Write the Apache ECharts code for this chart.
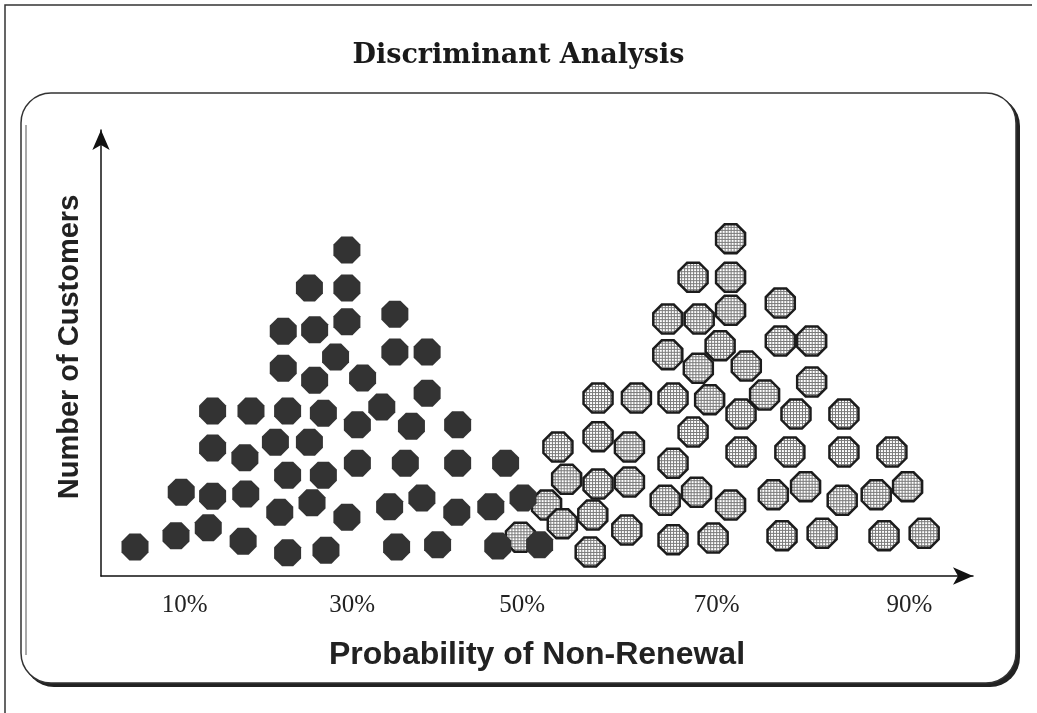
<!DOCTYPE html>
<html>
<head>
<meta charset="utf-8">
<script src="https://cdn.jsdelivr.net/npm/echarts@6/dist/echarts.min.js"></script>
<style>
  html, body { margin: 0; padding: 0; background: #ffffff; }
  #chart { width: 1037px; height: 713px; }
</style>
</head>
<body>
<div id="chart"></div>
<script>
// Customers expected to renew (dark markers): probability (%) and stacking height
const renewX = [28.2, 23.9, 28.2, 20.9, 24.5, 28.2, 33.7, 26.9, 33.7, 37.4,
                20.9, 24.5, 30.0, 12.8, 17.2, 21.4, 25.5, 32.2, 37.4, 29.4,
                35.6, 40.9, 12.8, 16.5, 20.0, 23.9, 29.4, 34.9, 40.9, 46.4,
                21.4, 25.5, 9.2, 12.8, 16.6, 20.5, 24.2, 28.2, 33.1, 36.8,
                40.8, 44.7, 48.4, 3.9, 8.6, 12.3, 16.3, 21.4, 25.8, 33.9,
                38.6, 45.5, 50.3];
const renewY = [73.1, 64.6, 64.6, 54.9, 55.2, 57.0, 58.7, 49.1, 50.2, 50.2,
                46.6, 43.9, 44.4, 37.0, 37.0, 37.0, 36.5, 37.9, 41.0, 33.9,
                33.6, 33.9, 28.7, 26.5, 30.0, 30.0, 25.3, 25.3, 25.3, 25.3,
                22.6, 22.6, 18.8, 17.9, 18.4, 14.3, 16.4, 13.2, 15.5, 17.5,
                14.3, 15.5, 17.5, 6.5, 9.0, 10.8, 7.8, 5.2, 5.8, 6.5,
                7.0, 6.7, 7.0];

// Customers expected to leave (light hatched markers)
const leaveX = [72.2, 67.9, 72.2, 65.0, 68.6, 72.2, 77.9, 71.0, 65.0, 68.5,
                74.0, 77.9, 81.5, 81.5, 57.0, 61.4, 65.6, 69.8, 76.1, 73.4,
                79.7, 85.2, 67.9, 57.0, 52.4, 60.6, 73.4, 79.0, 85.2, 90.7,
                65.6, 53.4, 57.0, 60.6, 64.7, 68.3, 72.2, 77.1, 80.8, 85.0,
                88.9, 92.5, 51.1, 52.9, 56.4, 60.3, 48.1, 56.1, 65.6, 70.2,
                78.1, 82.7, 89.8, 94.4];
const leaveY = [75.6, 67.0, 67.0, 57.6, 57.6, 59.6, 61.2, 51.6, 49.6, 46.6,
                47.1, 52.7, 52.7, 43.5, 39.9, 39.9, 39.9, 39.5, 40.6, 36.3,
                36.3, 36.3, 32.3, 31.2, 28.9, 28.9, 27.8, 27.8, 27.8, 27.8,
                25.3, 21.7, 20.6, 21.1, 17.0, 18.8, 15.9, 18.2, 20.0, 17.0,
                18.2, 20.0, 15.9, 11.7, 13.7, 10.3, 8.7, 5.4, 8.1, 8.5,
                9.0, 9.6, 9.0, 9.6];

// Tick labels along the probability axis and where they sit on it
const tickLabels = ['10%', '30%', '50%', '70%', '90%'];
const tickPositions = [9.6, 28.8, 48.3, 70.6, 92.7];

const zip = (xs, ys) => xs.map((x, i) => [x, ys[i]]);

// Flat-topped regular octagon marker
const octagon = 'path://M8.5,0 L20.5,0 L29,8.5 L29,20.5 L20.5,29 L8.5,29 L0,20.5 L0,8.5 Z';
const LIGHT_SIZE = 29;

// Fine grey grid texture for the light markers; scatter symbols are drawn in a
// 2-unit box and scaled up, so the pattern is scaled back to stay pixel-sized
const tile = document.createElement('canvas');
tile.width = 3; tile.height = 3;
const tg = tile.getContext('2d');
tg.fillStyle = '#ffffff'; tg.fillRect(0, 0, 3, 3);
tg.fillStyle = '#7a7a7a'; tg.fillRect(0, 0, 3, 1); tg.fillRect(0, 0, 1, 3);
const hatch = { image: tile, repeat: 'repeat', scaleX: 2 / LIGHT_SIZE, scaleY: 2 / LIGHT_SIZE };

const chart = echarts.init(document.getElementById('chart'), null, { renderer: 'canvas' });

chart.setOption({
  backgroundColor: '#ffffff',
  animation: false,
  title: {
    text: 'Discriminant Analysis',
    left: 'center',
    top: 37,
    textStyle: { fontFamily: 'DejaVu Serif', fontWeight: 'bold', fontSize: 27, color: '#1a1a1a' }
  },
  graphic: [
    // outer frame (top and left edges)
    { type: 'polyline', silent: true, shape: { points: [[5, 713], [5, 5], [1032, 5]] },
      style: { stroke: '#333', lineWidth: 1.5, fill: null } },
    // rounded panel: dark offset gives the heavy right/bottom edge
    { type: 'rect', silent: true, z: -2, shape: { x: 24, y: 96, width: 996, height: 591, r: 30 },
      style: { fill: '#222' } },
    { type: 'rect', silent: true, z: -1, shape: { x: 21, y: 93, width: 995, height: 590, r: 30 },
      style: { fill: '#ffffff', stroke: '#333', lineWidth: 1.5 } },
    { type: 'line', silent: true, z: -1, shape: { x1: 26, y1: 125, x2: 26, y2: 655 },
      style: { stroke: '#555', lineWidth: 1 } }
  ],
  grid: { left: 101, right: 64, top: 130, bottom: 137, containLabel: false },
  xAxis: {
    type: 'value', min: 0, max: 100,
    axisLine: { show: true, symbol: ['none', 'arrow'], symbolSize: [13, 20],
                lineStyle: { color: '#111', width: 1.5 } },
    axisTick: { show: false },
    splitLine: { show: false },
    axisLabel: {
      customValues: tickPositions,
      formatter: function (v) {
        let best = 0;
        tickPositions.forEach((p, i) => { if (Math.abs(p - v) < Math.abs(tickPositions[best] - v)) best = i; });
        return tickLabels[best];
      },
      fontFamily: 'Liberation Serif', fontSize: 25, color: '#222', margin: 17
    },
    name: 'Probability of Non-Renewal',
    nameLocation: 'middle', nameGap: 63,
    nameTextStyle: { fontFamily: 'Liberation Sans', fontWeight: 'bold', fontSize: 32, color: '#222' }
  },
  yAxis: {
    type: 'value', min: 0, max: 100,
    axisLine: { show: true, symbol: ['none', 'arrow'], symbolSize: [13, 20],
                lineStyle: { color: '#111', width: 1.5 } },
    axisTick: { show: false },
    splitLine: { show: false },
    axisLabel: { show: false },
    name: 'Number of Customers',
    nameLocation: 'middle', nameGap: 17,
    nameTextStyle: { fontFamily: 'Liberation Sans', fontWeight: 'bold', fontSize: 29, color: '#222',
                     padding: [0, 0, 0, 12] }
  },
  series: [
    {
      name: 'Non-renewing', type: 'scatter',
      symbol: octagon, symbolSize: LIGHT_SIZE,
      itemStyle: { color: hatch, borderColor: '#1c1c1c', borderWidth: 2.5, opacity: 1 },
      data: zip(leaveX, leaveY)
    },
    {
      name: 'Renewing', type: 'scatter',
      symbol: octagon, symbolSize: 27,
      itemStyle: { color: '#333333', opacity: 1 },
      data: zip(renewX, renewY)
    }
  ]
});
</script>
</body>
</html>
